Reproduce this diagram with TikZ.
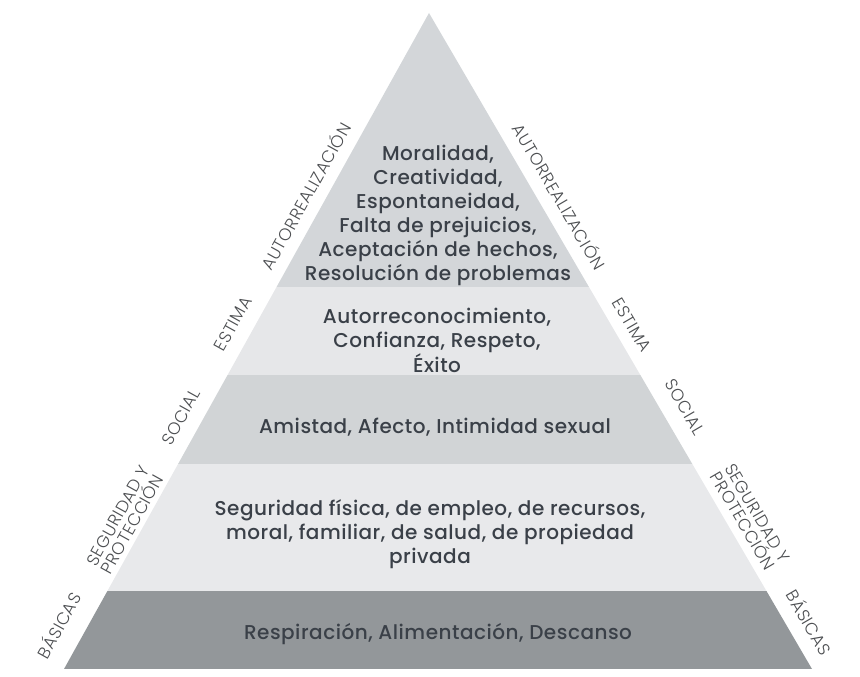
\documentclass[tikz,border=0pt]{standalone}
\usepackage{fontspec}
\newfontfamily\bodyfont{Poppins Medium}[LetterSpace=2.5]
\newfontfamily\sidefont{Poppins Light}[LetterSpace=3]

\definecolor{autogray}{HTML}{D3D6D9}
\definecolor{estimagray}{HTML}{E6E7E9}
\definecolor{socialgray}{HTML}{D1D4D6}
\definecolor{segurgray}{HTML}{E8E9EB}
\definecolor{basicgray}{HTML}{93979A}
\definecolor{textgray}{HTML}{3A4048}
\definecolor{sidegray}{HTML}{4D4F52}

\tikzset{
  level/.style={align=center, text=textgray, inner sep=0pt, font=\bodyfont\fontsize{20}{24}\selectfont},
  side/.style={align=center, text=sidegray, inner sep=0pt, font=\sidefont\fontsize{17}{14}\selectfont},
}

\begin{document}
\begin{tikzpicture}[x=1pt,y=-1pt]
\useasboundingbox (0,0) rectangle (860,677);

\coordinate (apex) at (429,13);
\coordinate (bl) at (64,669);
\coordinate (br) at (812,669);

% bands of the pyramid
\begin{scope}
\clip (apex) -- (bl) -- (br) -- cycle;
\fill[autogray] (0,0) rectangle (860,287);
\fill[estimagray] (0,287) rectangle (860,375);
\fill[socialgray] (0,375) rectangle (860,464);
\fill[segurgray] (0,464) rectangle (860,591);
\fill[basicgray] (0,591) rectangle (860,669);
\end{scope}

\node[level] (auto) at (438,215) {Moralidad,\\Creatividad,\\Espontaneidad,\\Falta de prejuicios,\\Aceptación de hechos,\\Resolución de problemas};
\node[level] (estima) at (437,340) {Autorreconocimiento,\\Confianza, Respeto,\\Éxito};
\node[level] (social) at (435,427) {Amistad, Afecto, Intimidad sexual};
\node[level] (segur) at (430,534) {Seguridad física, de empleo, de recursos,\\moral, familiar, de salud, de propiedad\\privada};
\node[level] (basic) at (438,634) {Respiración, Alimentación, Descanso};

% labels on the left side
\node[side, rotate=60.9] (lauto) at (305,196) {AUTORREALIZACIÓN};
\node[side, rotate=60.9] (lestima) at (233,324) {ESTIMA};
\node[side, rotate=60.9] (lsocial) at (181,417) {SOCIAL};
\node[side, rotate=60.9] (lsegur) at (125,520) {SEGURIDAD Y\\PROTECCIÓN};
\node[side, rotate=60.9] (lbasic) at (58,625) {BÁSICAS};

% labels on the right side
\node[side, rotate=-59.7] (rauto) at (560,196) {AUTORREALIZACIÓN};
\node[side, rotate=-59.7] (restima) at (632,325) {ESTIMA};
\node[side, rotate=-59.7] (rsocial) at (685,407) {SOCIAL};
\node[side, rotate=-59.7] (rsegur) at (750,517) {SEGURIDAD Y\\PROTECCIÓN};
\node[side, rotate=-59.7] (rbasic) at (810,622) {BÁSICAS};

\end{tikzpicture}
\end{document}
